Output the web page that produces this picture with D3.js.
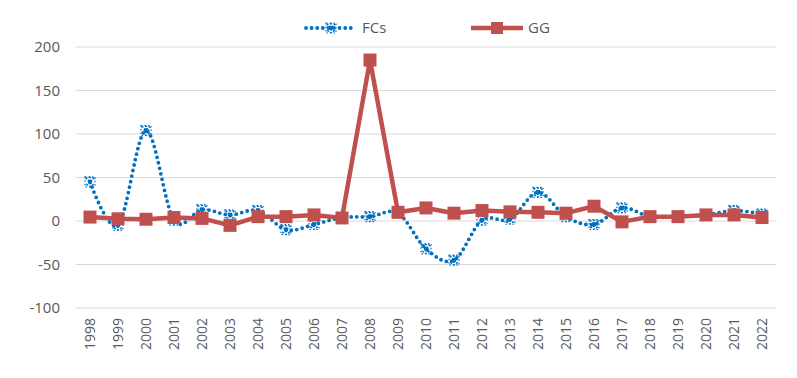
<!DOCTYPE html>
<html>
<head>
<meta charset="utf-8">
<script src="https://cdn.jsdelivr.net/npm/d3@7"></script>
<style>
  body { margin: 0; background: #fff; }
  text { font-family: "Open Sans", "Liberation Sans", sans-serif; fill: #595959; }
</style>
</head>
<body>
<div id="chart"></div>
<script>
// data
var years = ["1998","1999","2000","2001","2002","2003","2004","2005","2006","2007","2008","2009",
             "2010","2011","2012","2013","2014","2015","2016","2017","2018","2019","2020","2021","2022"];
var fcs = [45, -5, 104, 1, 13, 7, 12, -10, -4, 4, 5, 9, -32, -45, 1, 2, 33, 5, -4, 15, 5, 5, 7, 12, 8];
var gg  = [4.5, 2.5, 2, 4, 3, -5, 5, 5, 7, 3.5, 185, 10, 15, 9, 12, 10.5, 10, 9, 17, -1, 5, 5, 7, 7, 4];
var yTicks = [-100, -50, 0, 50, 100, 150, 200];

var width = 797, height = 378;
var margin = {top: 47, right: 21, bottom: 70, left: 76};
var w = width - margin.left - margin.right,
    h = height - margin.top - margin.bottom;

var blue = "#0070C0", red = "#C0504D";

var svg = d3.select("#chart").append("svg")
    .attr("width", width)
    .attr("height", height);

var g = svg.append("g")
    .attr("transform", "translate(" + margin.left + "," + margin.top + ")");

var x = d3.scaleBand().domain(years).range([0, w]);
var y = d3.scaleLinear().domain([-100, 200]).range([h + 0, 0]);

//gridlines
g.append("g").selectAll("line")
    .data(yTicks).enter()
    .append("line")
    .attr("x1", 0).attr("x2", w)
    .attr("y1", function (d) { return y(d); })
    .attr("y2", function (d) { return y(d); })
    .attr("stroke", "#d9d9d9")
    .attr("stroke-width", 1.2);

//y labels
g.append("g").selectAll("text")
    .data(yTicks).enter()
    .append("text")
    .attr("x", -16)
    .attr("y", function (d) { return y(d); })
    .attr("dy", "0.35em")
    .attr("text-anchor", "end")
    .style("font-size", "15px")
    .text(function (d) { return d; });

//x labels, rotated
g.append("g").selectAll("text")
    .data(years).enter()
    .append("text")
    .attr("transform", function (d) {
        return "translate(" + (x(d) + x.bandwidth() / 2) + "," + (h + 10) + ") rotate(-90)";
    })
    .attr("dy", "0.35em")
    .attr("text-anchor", "end")
    .style("font-size", "14px")
    .text(function (d) { return d; });

var cx = function (d, i) { return x(years[i]) + x.bandwidth() / 2; };

// straight line for GG, smoothed for FCs (excel smooth line)
var line = d3.line()
    .x(function (d, i) { return cx(d, i); })
    .y(function (d) { return y(d); });
var smooth = d3.line()
    .x(function (d, i) { return cx(d, i); })
    .y(function (d) { return y(d); })
    .curve(d3.curveCardinal.tension(0));

g.append("path")
    .datum(fcs)
    .attr("d", smooth)
    .attr("fill", "none")
    .attr("stroke", blue)
    .attr("stroke-width", 3.8)
    .attr("stroke-linecap", "round")
    .attr("stroke-dasharray", "0 5.6");

// star-ish marker
function starMarker(sel) {
    sel.append("path")
        .attr("d", "M-4,-4L4,4M4,-4L-4,4M0,-5L0,5")
        .attr("stroke", blue)
        .attr("stroke-width", 2.2)
        .attr("stroke-dasharray", "1.5 1.5");
    sel.append("rect")
        .attr("x", -5).attr("y", -5).attr("width", 10).attr("height", 10)
        .attr("fill", "none")
        .attr("stroke", blue)
        .attr("stroke-width", 1.2)
        .attr("stroke-dasharray", "1.5 2");
    sel.append("circle").attr("r", 2.2).attr("fill", blue);
}

g.append("g").selectAll("g")
    .data(fcs).enter()
    .append("g")
    .attr("transform", function (d, i) { return "translate(" + cx(d, i) + "," + y(d) + ")"; })
    .call(starMarker);

// GG line
g.append("path")
    .datum(gg)
    .attr("d", line)
    .attr("fill", "none")
    .attr("stroke", red)
    .attr("stroke-width", 4.5)
    .attr("stroke-linejoin", "round");

g.append("g").selectAll("rect")
    .data(gg).enter()
    .append("rect")
    .attr("x", function (d, i) { return cx(d, i) - 6.5; })
    .attr("y", function (d) { return y(d) - 6.5; })
    .attr("width", 13).attr("height", 13)
    .attr("fill", red);

//legend
var leg = svg.append("g");
leg.append("line")
    .attr("x1", 306).attr("x2", 352).attr("y1", 28).attr("y2", 28)
    .attr("stroke", blue).attr("stroke-width", 3.8)
    .attr("stroke-linecap", "round").attr("stroke-dasharray", "0 5.6");
leg.append("g").attr("transform", "translate(331,28)").call(starMarker);
leg.append("text").attr("x", 362).attr("y", 28).attr("dy", "0.35em")
    .style("font-size", "15px").text("FCs");

leg.append("line")
    .attr("x1", 471).attr("x2", 523).attr("y1", 28).attr("y2", 28)
    .attr("stroke", red).attr("stroke-width", 4.5);
leg.append("rect").attr("x", 491).attr("y", 22).attr("width", 12).attr("height", 12).attr("fill", red);
leg.append("text").attr("x", 528).attr("y", 28).attr("dy", "0.35em")
    .style("font-size", "15px").text("GG");
</script>
</body>
</html>
